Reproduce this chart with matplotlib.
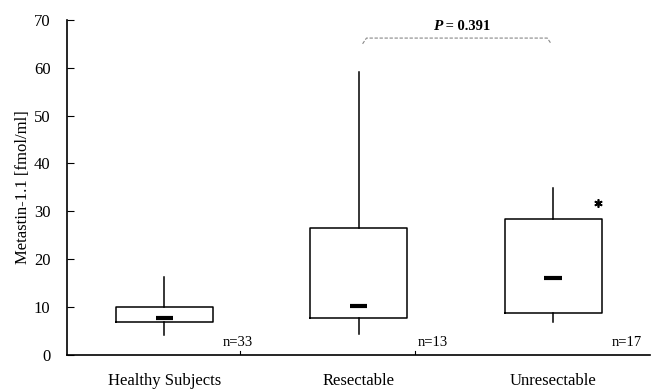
import matplotlib
matplotlib.use("Agg")
import matplotlib.pyplot as plt

plt.rcParams['font.family'] = ['Liberation Serif', 'DejaVu Serif']

# data
groups = ["Healthy Subjects", "Resectable", "Unresectable"]
n_labels = ["n=33", "n=13", "n=17"]
whislo = [4.2, 4.4, 6.9]
q1 = [6.8, 7.8, 8.8]
med = [7.8, 10.3, 16.1]
q3 = [10.0, 26.6, 28.3]
whishi = [16.3, 59.1, 34.8]
outlier_x = [3.23]
outlier_y = [31.8]
p_text = " = 0.391"

pos = [1, 2, 3]

fig = plt.figure(figsize=(6.51, 3.9), dpi=100)
ax = fig.add_axes([0.103, 0.09, 0.896, 0.859])

stats = []
for i in range(3):
    stats.append(dict(whislo=whislo[i], q1=q1[i], med=med[i], q3=q3[i],
                      whishi=whishi[i], fliers=[], label=groups[i]))

ax.bxp(stats, positions=pos, widths=0.5, showcaps=False, showfliers=False,
       boxprops=dict(color='black', linewidth=1.1),
       whiskerprops=dict(color='black', linewidth=1.1),
       medianprops=dict(linewidth=0))

# short thick median bars
for p, m in zip(pos, med):
    ax.plot([p - 0.045, p + 0.045], [m, m], color='black', linewidth=3,
            solid_capstyle='butt')

# asterisk
ax.plot(outlier_x, outlier_y, marker=(6, 2, 0), color='black',
        markersize=6, markeredgewidth=1.2, linestyle='none')

# n labels
for p, t in zip(pos, n_labels):
    ax.text(p + 0.38, 1.2, t, ha='center', va='bottom', fontsize=10.5)

# small separator ticks on the x axis
for xt in [1.39, 2.29]:
    ax.plot([xt, xt], [0, 0.9], color='black', linewidth=0.8)

# significance bracket
bx0, bx1, by = 2.02, 2.99, 66.2
ax.plot([bx0, bx0 + 0.02, bx1 - 0.02, bx1], [by - 1.2, by, by, by - 1.2],
        color='#888888', linewidth=0.8, linestyle=(0, (3, 1.5)))
ax.text(2.43, 67.3, "P", ha='right', va='bottom', fontsize=11,
        fontweight='bold', fontstyle='italic')
ax.text(2.43, 67.3, p_text, ha='left', va='bottom', fontsize=10.5,
        fontweight='bold')

ax.set_xlim(0.5, 3.5)
ax.set_ylim(0, 70)
ax.set_yticks(range(0, 71, 10))
ax.set_xticks(pos)
ax.set_xticklabels(groups, fontsize=12)
ax.tick_params(axis='x', length=0, pad=13)
ax.tick_params(axis='y', direction='in', length=5, labelsize=12, pad=12)
ax.set_ylabel("Metastin-1.1 [fmol/ml]", fontsize=12, labelpad=2)

ax.spines['top'].set_visible(False)
ax.spines['right'].set_visible(False)
ax.spines['left'].set_linewidth(1.2)
ax.spines['bottom'].set_linewidth(1.2)

fig.savefig("out.png", dpi=100)
